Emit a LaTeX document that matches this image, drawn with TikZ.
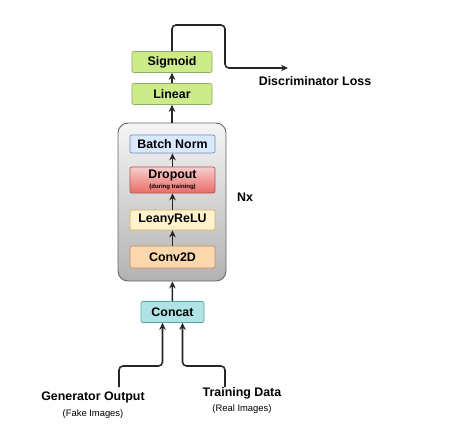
\documentclass[tikz,border=0pt]{standalone}
\usepackage{fontspec}
\setmainfont{Liberation Sans}
\usetikzlibrary{arrows.meta,positioning,calc}

\definecolor{limefill}{HTML}{CDEB8B}
\definecolor{limeline}{HTML}{8DAE5A}
\definecolor{bluefill}{HTML}{DAE8FC}
\definecolor{blueline}{HTML}{6C8EBF}
\definecolor{redtop}{HTML}{F8CECC}
\definecolor{redbottom}{HTML}{EA6B66}
\definecolor{redline}{HTML}{B85450}
\definecolor{yellowfill}{HTML}{FFF2CC}
\definecolor{yellowline}{HTML}{D6B656}
\definecolor{orangefill}{HTML}{FAD7AC}
\definecolor{orangeline}{HTML}{C98B4F}
\definecolor{tealfill}{HTML}{B0E3E6}
\definecolor{tealline}{HTML}{4FA8AD}

\begin{document}
\begin{tikzpicture}[
    x=1pt, y=-1pt,
    font=\fontsize{12.4}{14}\selectfont\bfseries,
    layer/.style={rectangle, rounded corners=2pt, line width=0.7pt, inner sep=0pt, minimum width=85pt, minimum height=20pt},
    outer/.style={layer, minimum width=80pt, minimum height=21pt, fill=limefill, draw=limeline},
    block/.style={rectangle, rounded corners=10pt, line width=0.9pt, draw=black!60, top color=black!4, bottom color=black!30, minimum width=108pt, minimum height=158pt},
    source/.style={align=center, inner sep=0pt},
    note/.style={font=\fontsize{9.4}{11}\selectfont},
    flow/.style={-{Stealth[length=7pt,width=6.5pt]}, line width=1.6pt, black!85}
]
    \useasboundingbox (0,0) rectangle (458,428);

    % Repeated block
    \node[block] (nblock) at (172,202) {};
    \node[layer, fill=bluefill, draw=blueline, minimum height=18pt] (bnorm) at (172.5,144) {Batch Norm};
    \node[layer, top color=redtop, bottom color=redbottom, draw=redline, minimum height=26pt, align=center] (dropout) at (172.5,180)
        {Dropout\\[-4pt]{\fontsize{6}{7}\selectfont (during training)}};
    \node[layer, fill=yellowfill, draw=yellowline] (relu) at (172.5,220) {LeanyReLU};
    \node[layer, fill=orangefill, draw=orangeline, minimum height=22pt] (conv) at (172.5,257) {Conv2D};
    \node (nx) at (245,197) {Nx};

    % Output head
    \node[outer] (linear) at (172,94) {Linear};
    \node[outer] (sigmoid) at (172,62) {Sigmoid};
    \node (loss) at (315,81) {Discriminator Loss};
    \coordinate (lossend) at (288,68);

    % Inputs
    \node[layer, fill=tealfill, draw=tealline, minimum width=63pt, minimum height=21pt] (concat) at (172.5,312) {Concat};
    \node[source] (gen) at (93,405) {Generator Output\\[2pt]{\mdseries\fontsize{9.4}{11}\selectfont (Fake Images)}};
    \node[source] (train) at (242,400) {Training Data\\[1pt]{\mdseries\fontsize{9.4}{11}\selectfont (Real Images)}};
    \coordinate (genout) at (119,387);
    \coordinate (traindata) at (225,387);

    % Connections
    \draw[flow, rounded corners=4pt] (genout) -- ++(0,-21) -| ([xshift=-10pt]concat.south);
    \draw[flow, rounded corners=4pt] (traindata) -- ++(0,-21) -| ([xshift=10pt]concat.south);
    \draw[flow] (concat) -- (nblock);
    \draw[flow] (conv) -- (relu);
    \draw[flow] (relu) -- (dropout);
    \draw[flow] (dropout) -- (bnorm);
    \draw[flow] (nblock) -- (linear);
    \draw[flow] (linear) -- (sigmoid);
    \draw[flow, rounded corners=4pt] (sigmoid.north) |- (225,25) |- (lossend);
\end{tikzpicture}
\end{document}
